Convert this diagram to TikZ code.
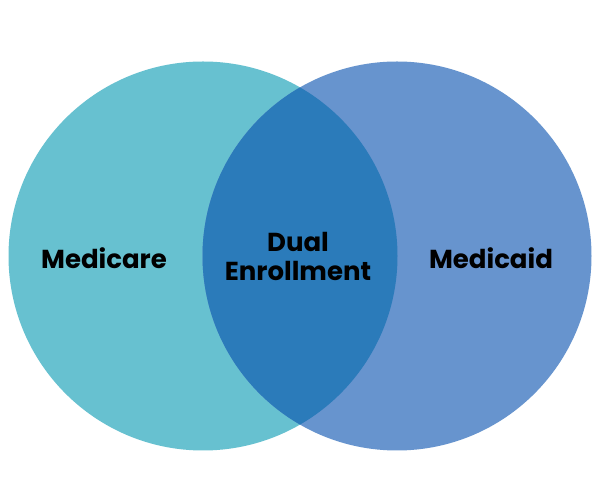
\documentclass[tikz,border=0pt]{standalone}
\usepackage{fontspec}
\setmainfont{Poppins}
\definecolor{medicare}{HTML}{67C1D0}
\definecolor{medicaid}{HTML}{6794CE}
\definecolor{dual}{HTML}{2B7BBA}
\begin{document}
\begin{tikzpicture}[x=1pt,y=1pt,
  lbl/.style={font=\fontsize{26}{29}\selectfont\bfseries, text=black, align=center, inner sep=0pt}]
\useasboundingbox (0,0) rectangle (600,500);
\fill[white] (0,0) rectangle (600,500);
\coordinate (cl) at (203,244);
\coordinate (cr) at (397,244);
\fill[medicare] (cl) circle (194.5);
\fill[medicaid] (cr) circle (194.5);
\begin{scope}
  \clip (cl) circle (194.5);
  \fill[dual] (cr) circle (194.5);
\end{scope}
\node[lbl] (a) at (104,242) {Medicare};
\node[lbl] (b) at (298,244) {Dual\\Enrollment};
\node[lbl] (c) at (491,242) {Medicaid};
\end{tikzpicture}
\end{document}
